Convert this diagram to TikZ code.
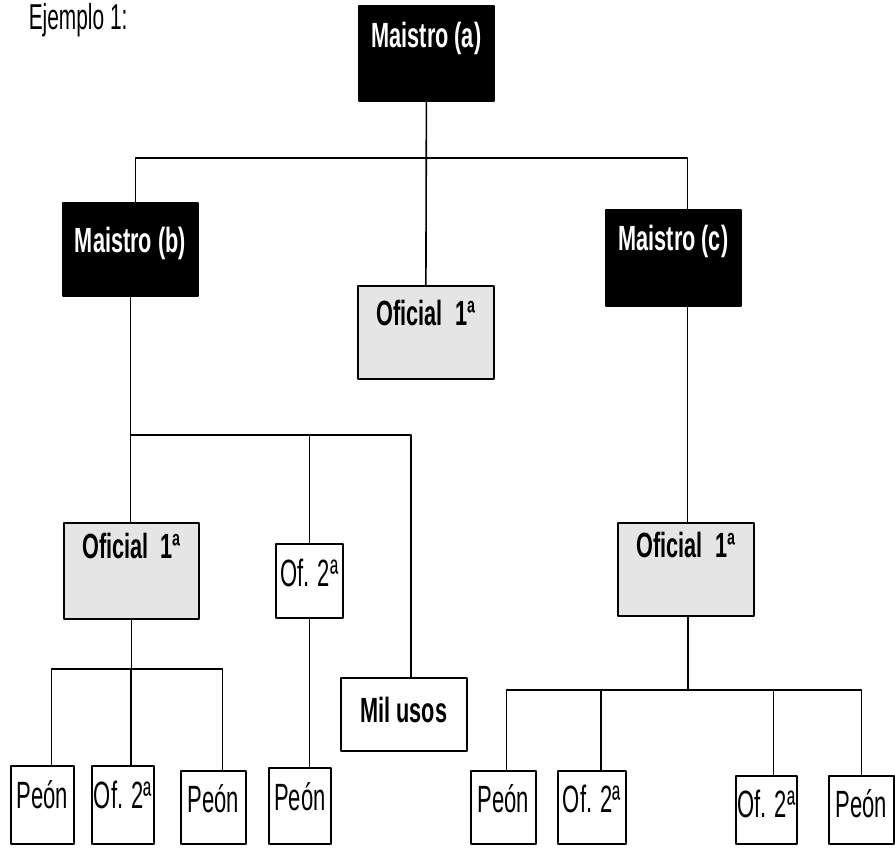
\documentclass[tikz,border=0pt]{standalone}
\usepackage{fontspec}
\newfontfamily\regnarrow{Liberation Sans}[FakeStretch=0.58]
\newfontfamily\boldnarrow{Liberation Sans}[FakeStretch=0.62]

\begin{document}
\begin{tikzpicture}[x=1pt, y=-1pt, line width=1.6pt, line cap=round, line join=round,
  box/.style={draw, line width=1.8pt, inner sep=0pt, anchor=north west,
    font=\regnarrow\fontsize{38}{40}\selectfont},
  boss/.style={box, fill=black, text=white,
    font=\boldnarrow\bfseries\fontsize{35}{37}\selectfont},
  chief/.style={box, fill=black!10,
    font=\boldnarrow\bfseries\fontsize{35}{37}\selectfont},
  worker/.style={box, fill=white}]
  \useasboundingbox (0,0) rectangle (895,852);
  % Title.
  \node[anchor=base west, inner sep=0pt, font=\regnarrow\fontsize{36}{38}\selectfont]
    (title) at (28,29) {Ejemplo 1:};
  % First level.
  \node[boss, minimum width=135pt, text height=42pt, text depth=53pt] (ma) at (358,5) {Maistro (a)};
  % Second level.
  \node[boss, minimum width=135pt, text height=50pt, text depth=43pt] (mb) at (62,202) {Maistro (b)};
  \node[chief, minimum width=136pt, text height=40pt, text depth=53pt] (o1m) at (357,285) {Oficial\ \ 1ª};
  \node[boss, minimum width=135pt, text height=41pt, text depth=55pt] (mc) at (605,209) {Maistro (c)};
  % Third level.
  \node[chief, minimum width=135pt, text height=36pt, text depth=60pt] (o1b) at (63,522) {Oficial\ \ 1ª};
  \node[worker, minimum width=67pt, text height=43pt, text depth=31pt] (o2b) at (275,543) {Of. 2ª};
  \node[worker, minimum width=126pt, text height=45pt, text depth=28pt, font=\boldnarrow\bfseries\fontsize{35}{37}\selectfont] (mil) at (340,677) {Mil usos};
  \node[chief, minimum width=136pt, text height=35pt, text depth=58pt] (o1c) at (617,522) {Oficial\ \ 1ª};
  % Bottom row.
  \node[worker, minimum width=63pt, text height=43pt, text depth=35pt] (p1) at (10,765) {Peón};
  \node[worker, minimum width=62pt, text height=43pt, text depth=35pt] (o21) at (91,765) {Of. 2ª};
  \node[worker, minimum width=65pt, text height=42pt, text depth=31pt] (p2) at (180,770) {Peón};
  \node[worker, minimum width=62pt, text height=43pt, text depth=33pt] (p3) at (268,767) {Peón};
  \node[worker, minimum width=65pt, text height=42pt, text depth=31pt] (p4) at (470,770) {Peón};
  \node[worker, minimum width=68pt, text height=42pt, text depth=31pt] (o22) at (557,770) {Of. 2ª};
  \node[worker, minimum width=61pt, text height=42pt, text depth=26pt] (o23) at (735,775) {Of. 2ª};
  \node[worker, minimum width=65pt, text height=42pt, text depth=26pt] (p5) at (828,775) {Peón};
  % Buses.
  \coordinate (busa) at (0,158);
  \coordinate (busb) at (0,435);
  \coordinate (busbb) at (0,669);
  \coordinate (busc) at (0,690);
  % From Maistro (a).
  \draw (ma.south) -- (o1m.north);
  \draw ([xshift=5]mb.north) |- (busa -| o1m.north) -| ([xshift=14]mc.north);
  % From Maistro (b).
  \draw (mb.south) |- (busb -| o2b.north) -| ([xshift=7]mil.north);
  \draw (mb.south |- busb) -- (o1b.north -| mb.south);
  \draw (o2b.north) -- (o2b.north |- busb);
  \draw (o2b.south) -- (o2b.south |- p3.north);
  % From Oficial 1ª (b).
  \draw (o1b.south) -- (o1b.south |- busbb);
  \draw ([xshift=9]p1.north) |- (busbb -| o1b.south) -| ([xshift=9]p2.north);
  \draw ([xshift=8]o21.north) -- ([xshift=8]o21.north |- busbb);
  % From Maistro (c).
  \draw ([xshift=14]mc.south) -- ([xshift=14]mc.south |- o1c.north);
  \draw ([xshift=2]o1c.south) -- ([xshift=2]o1c.south |- busc);
  \draw ([xshift=3]p4.north) |- (busc -| o1c.south) -| (p5.north);
  \draw ([xshift=9]o22.north) -- ([xshift=9]o22.north |- busc);
  \draw ([xshift=7]o23.north) -- ([xshift=7]o23.north |- busc);
\end{tikzpicture}
\end{document}
